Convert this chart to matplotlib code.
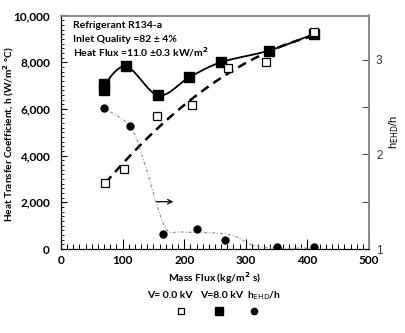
import numpy as np
import matplotlib
matplotlib.use("Agg")
import matplotlib.pyplot as plt
from matplotlib.ticker import MultipleLocator, FuncFormatter
from matplotlib.lines import Line2D

# ---------------- data ----------------
v0_x = [72, 102, 156, 213, 271, 333, 410]
v0_y = [2810, 3440, 5700, 6170, 7740, 8010, 9300]

v8_x = [70, 70, 106, 158, 208, 260, 338, 410]
v8_y = [6800, 7050, 7820, 6580, 7350, 8000, 8500, 9200]

ehd_x = [69, 112, 165, 221, 266, 351, 411]
ehd_y = [2.49, 2.30, 1.156, 1.216, 1.099, 1.02, 1.018]

# smoothed trend of h_EHD/h as drawn in the figure
ehd_curve_x = [69, 112, 135, 155, 172, 195, 250, 280, 312, 350, 411]
ehd_curve_y = [2.49, 2.30, 1.92, 1.48, 1.20, 1.18, 1.17, 1.14, 1.04, 1.01, 1.01]

x_ticks = [0, 100, 200, 300, 400, 500]
y_ticks = [0, 2000, 4000, 6000, 8000, 10000]
y2_ticks = [1, 2, 3]

info_lines = ["Refrigerant R134-a",
              "Inlet Quality =82 \u00b1 4%",
              "Heat Flux =11.0 \u00b10.3 kW/m$^\\mathbf{2}$"]


def catmull_rom(xs, ys, n=30):
    p = np.column_stack([xs, ys]).astype(float)
    p = np.vstack([p[0], p, p[-1]])
    out = []
    for i in range(1, len(p) - 2):
        p0, p1, p2, p3 = p[i - 1], p[i], p[i + 1], p[i + 2]
        t = np.linspace(0, 1, n)[:, None]
        seg = 0.5 * ((2 * p1) + (-p0 + p2) * t + (2 * p0 - 5 * p1 + 4 * p2 - p3) * t ** 2
                     + (-p0 + 3 * p1 - 3 * p2 + p3) * t ** 3)
        out.append(seg)
    out = np.vstack(out)
    return out[:, 0], out[:, 1]


FONT = "Lato"
plt.rcParams['font.family'] = [FONT, 'DejaVu Sans']

fig = plt.figure(figsize=(4.06, 3.33), dpi=100)
ax = fig.add_axes([61 / 406, 1 - 249 / 333, (369 - 61) / 406, (249 - 15.5) / 333])
ax2 = ax.twinx()

# V = 8.0 kV : smooth solid line + filled squares
sx, sy = catmull_rom(v8_x[1:], v8_y[1:])
ax.plot(sx, sy, color='black', lw=1.3, zorder=3)
ax.plot(v8_x, v8_y, ls='none', marker='s', ms=7, mfc='black', mec='black', zorder=4)

# V = 0.0 kV : polynomial trend (dashed) + open squares
coef = np.polyfit(np.array(v0_x, float), np.array(v0_y, float), 2)
tx = np.linspace(min(v0_x), max(v0_x), 200)
ax.plot(tx, np.polyval(coef, tx), color='black', lw=1.8, dashes=(3.6, 2.3), zorder=3)
ax.plot(v0_x, v0_y, ls='none', marker='s', ms=5.8, mfc='white', mec='black', mew=0.9, zorder=5)

# arrow pointing to the right axis
ax.annotate('', xy=(187, 2025), xytext=(150, 2025),
            arrowprops=dict(arrowstyle='->', lw=0.9, color='black', mutation_scale=8))

# h_EHD/h on right axis
cx, cy = catmull_rom(ehd_curve_x, ehd_curve_y)
ax2.plot(cx, cy, color='#999999', lw=0.9, dashes=(2.5, 1.5, 0.8, 1.5), zorder=2)
ax2.plot(ehd_x, ehd_y, ls='none', marker='o', ms=5, mfc='black', mec='black', zorder=4)

# axes limits
ax.set_xlim(0, 500)
ax.set_ylim(0, 10000)
ax2.set_ylim(1, 3.47)

# ticks
ax.xaxis.set_major_locator(MultipleLocator(100))
ax.xaxis.set_minor_locator(MultipleLocator(10))
ax.yaxis.set_major_locator(MultipleLocator(2000))
ax.yaxis.set_minor_locator(MultipleLocator(200))
ax.tick_params(axis='x', which='major', direction='in', length=7, width=0.8, pad=4,
               labelsize=8.5, top=False)
ax.tick_params(axis='x', which='minor', direction='in', length=3.5, width=0.7, top=False)
ax.tick_params(axis='y', which='major', direction='in', length=4, width=0.8, pad=8,
               labelsize=8.5, right=False)
ax.tick_params(axis='y', which='minor', direction='in', length=2.5, width=0.6, right=False)
ax.set_xticks(x_ticks)
ax.set_yticks(y_ticks)
ax.yaxis.set_major_formatter(FuncFormatter(lambda v, p: f"{int(v):,}"))
for lab in ax.get_xticklabels() + ax.get_yticklabels():
    lab.set_fontweight('bold')

ax2.set_yticks(y2_ticks)
ax2.yaxis.set_minor_locator(MultipleLocator(0.5))
ax2.tick_params(axis='y', which='both', direction='in', length=5, width=0.8,
                colors='#555555', labelcolor='#333333', pad=5, labelsize=8.5)
for lab in ax2.get_yticklabels():
    lab.set_fontfamily(['Liberation Sans', 'DejaVu Sans'])

# spines
for a_ in (ax, ax2):
    a_.spines['left'].set_color('black')
    a_.spines['bottom'].set_color('black')
    a_.spines['top'].set_color('#8a8a8a')
    a_.spines['right'].set_color('#8a8a8a')
    a_.spines['top'].set_linewidth(1.2)
    a_.spines['right'].set_linewidth(1.2)

# labels
ax.set_xlabel("Mass Flux (kg/m$^\\mathbf{2}$ s)", fontsize=7.5, fontweight='bold', labelpad=3)
ax.set_ylabel("Heat Transfer Coefficient, h (W/m$^\\mathbf{2}$ \u00b0C)", fontsize=7.2,
              fontweight='bold')
ax.yaxis.set_label_coords(-0.147, 0.49)
ax2.set_ylabel("h$_{\\mathrm{EHD}}$/h", fontsize=8, labelpad=3,
               fontfamily=['Liberation Sans', 'DejaVu Sans'])

# info text
info_y = [0.959, 0.899, 0.843]
for t, yy in zip(info_lines, info_y):
    ax.text(0.04, yy, t, transform=ax.transAxes, fontsize=7.5,
            fontweight='bold', va='center', ha='left')

# cut-off caption at top
fig.text(0.49, 1.018, "in Figure 5-5", ha='center', va='center', fontsize=8, color='#777777')

# custom legend below
leg_labels = ["V= 0.0 kV", "V=8.0 kV", "h$_{\\mathrm{EHD}}$/h"]
leg_lx = [170, 222, 264]
leg_mx = [181, 219, 254]
leg_markers = [dict(marker='s', ms=5, mfc='white', mec='black', mew=0.9),
               dict(marker='s', ms=6, mfc='black', mec='black'),
               dict(marker='o', ms=4.5, mfc='black', mec='black')]
for lab, lxp, mxp, mk in zip(leg_labels, leg_lx, leg_mx, leg_markers):
    fig.text(lxp / 406, 1 - 296 / 333, lab, ha='center', va='center', fontsize=7.5,
             fontweight='bold')
    fig.add_artist(Line2D([mxp / 406], [1 - 311 / 333], transform=fig.transFigure,
                          ls='none', **mk))

fig.savefig("out.png", dpi=100)
